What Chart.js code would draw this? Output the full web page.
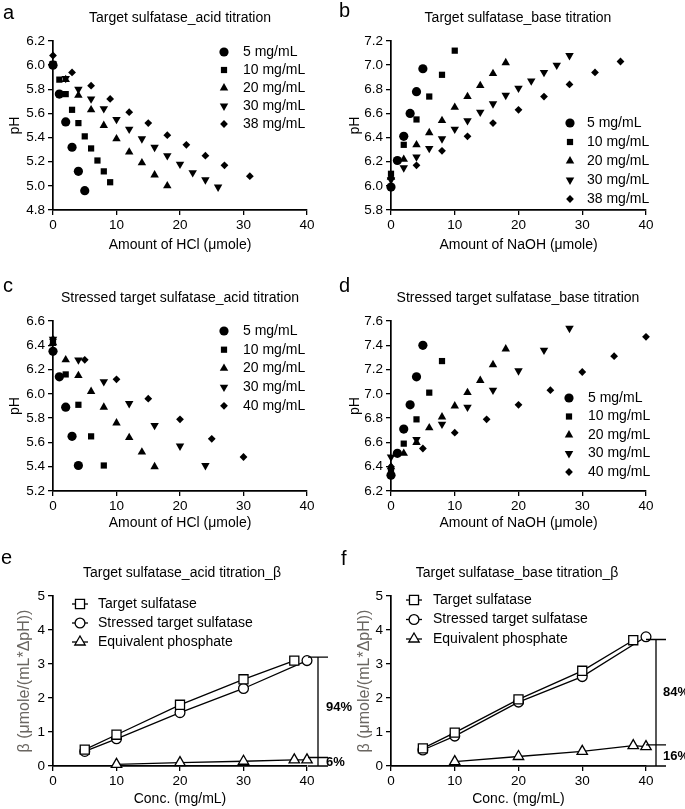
<!DOCTYPE html>
<html>
<head>
<meta charset="utf-8">
<script src="https://cdn.jsdelivr.net/npm/chart.js@4.4.1/dist/chart.umd.min.js"></script>
<style>
  html, body { margin: 0; padding: 0; background: #fff; }
  #page { position: relative; width: 685px; height: 809px; overflow: hidden;
          font-family: 'Liberation Sans', Arial, sans-serif; color: #000; }
  #page canvas { position: absolute; left: 0; top: 0; }
  .lbl { position: absolute; font-size: 20px; line-height: 20px; }
  .ttl { position: absolute; width: 340px; text-align: center; font-size: 14px; line-height: 16px; white-space: nowrap; }
</style>
</head>
<body>
<div id="page">
  <canvas id="chartA" width="685" height="809"></canvas>
  <canvas id="chartB" width="685" height="809"></canvas>
  <canvas id="chartC" width="685" height="809"></canvas>
  <canvas id="chartD" width="685" height="809"></canvas>
  <canvas id="chartE" width="685" height="809"></canvas>
  <canvas id="chartF" width="685" height="809"></canvas>

  <div class="lbl" style="left:3px;top:2px">a</div>
  <div class="lbl" style="left:339px;top:0px">b</div>
  <div class="lbl" style="left:3px;top:275px">c</div>
  <div class="lbl" style="left:339px;top:275px">d</div>
  <div class="lbl" style="left:1px;top:547px">e</div>
  <div class="lbl" style="left:341px;top:548px">f</div>

  <div class="ttl" style="left:10px;top:9px">Target sulfatase_acid titration</div>
  <div class="ttl" style="left:348px;top:9px">Target sulfatase_base titration</div>
  <div class="ttl" style="left:10px;top:289px">Stressed target sulfatase_acid titration</div>
  <div class="ttl" style="left:348px;top:289px">Stressed target sulfatase_base titration</div>
  <div class="ttl" style="left:12px;top:564px">Target sulfatase_acid titration_β</div>
  <div class="ttl" style="left:347px;top:564px">Target sulfatase_base titration_β</div>
</div>

<script>
// ---- Panel a: target sulfatase, acid titration (HCl µmole vs pH)
const labelsAB = ['5 mg/mL', '10 mg/mL', '20 mg/mL', '30 mg/mL', '38 mg/mL'];
const aHcl5  = [0, 1, 2, 3, 4, 5];
const aPh5   = [6.00, 5.76, 5.53, 5.32, 5.12, 4.96];
const aHcl10 = [0, 1, 2, 3, 4, 5, 6, 7, 8, 9];
const aPh10  = [6.01, 5.88, 5.76, 5.63, 5.52, 5.41, 5.31, 5.21, 5.12, 5.03];
const aHcl20 = [0, 2, 4, 6, 8, 10, 12, 14, 16, 18];
const aPh20  = [6.00, 5.88, 5.75, 5.63, 5.50, 5.39, 5.28, 5.19, 5.09, 5.00];
const aHcl30 = [0, 2, 4, 6, 8, 10, 12, 14, 16, 18, 20, 22, 24, 26];
const aPh30  = [6.01, 5.89, 5.80, 5.72, 5.64, 5.55, 5.47, 5.39, 5.32, 5.25, 5.18, 5.11, 5.05, 4.99];
const aHcl38 = [0, 3, 6, 9, 12, 15, 18, 21, 24, 27, 31];
const aPh38  = [6.08, 5.94, 5.83, 5.72, 5.61, 5.52, 5.42, 5.34, 5.25, 5.17, 5.08];

// ---- Panel b: target sulfatase, base titration
const bNaoh5  = [0, 1, 2, 3, 4, 5];
const bPh5    = [5.99, 6.21, 6.41, 6.60, 6.78, 6.97];
const bNaoh10 = [0, 2, 4, 6, 8, 10];
const bPh10   = [6.10, 6.34, 6.55, 6.74, 6.92, 7.12];
const bNaoh20 = [0, 2, 4, 6, 8, 10, 12, 14, 16, 18];
const bPh20   = [6.07, 6.22, 6.34, 6.44, 6.54, 6.65, 6.74, 6.83, 6.93, 7.02];
const bNaoh30 = [0, 2, 4, 6, 8, 10, 12, 14, 16, 18, 20, 22, 24, 26, 28];
const bPh30   = [6.05, 6.15, 6.24, 6.31, 6.39, 6.47, 6.54, 6.61, 6.68, 6.75, 6.81, 6.87, 6.94, 7.00, 7.08];
const bNaoh38 = [0, 4, 8, 12, 16, 20, 24, 28, 32, 36];
const bPh38   = [6.06, 6.17, 6.29, 6.41, 6.52, 6.63, 6.74, 6.84, 6.94, 7.03];

// ---- Panel c: stressed target sulfatase, acid titration
const labelsCD = ['5 mg/mL', '10 mg/mL', '20 mg/mL', '30 mg/mL', '40 mg/mL'];
const cHcl5  = [0, 1, 2, 3, 4];
const cPh5   = [6.35, 6.14, 5.89, 5.65, 5.41];
const cHcl10 = [0, 2, 4, 6, 8];
const cPh10  = [6.42, 6.16, 5.91, 5.65, 5.41];
const cHcl20 = [0, 2, 4, 6, 8, 10, 12, 14, 16];
const cPh20  = [6.42, 6.28, 6.15, 6.02, 5.89, 5.76, 5.64, 5.52, 5.40];
const cHcl30 = [0, 4, 8, 12, 16, 20, 24];
const cPh30  = [6.45, 6.28, 6.10, 5.92, 5.74, 5.57, 5.41];
const cHcl40 = [0, 5, 10, 15, 20, 25, 30];
const cPh40  = [6.45, 6.28, 6.12, 5.96, 5.79, 5.63, 5.48];

// ---- Panel d: stressed target sulfatase, base titration
const dNaoh5  = [0, 1, 2, 3, 4, 5];
const dPh5    = [6.33, 6.51, 6.71, 6.91, 7.14, 7.40];
const dNaoh10 = [0, 2, 4, 6, 8];
const dPh10   = [6.37, 6.59, 6.79, 7.01, 7.27];
const dNaoh20 = [0, 2, 4, 6, 8, 10, 12, 14, 16, 18];
const dPh20   = [6.40, 6.51, 6.60, 6.72, 6.81, 6.90, 7.01, 7.11, 7.24, 7.37];
const dNaoh30 = [0, 4, 8, 12, 16, 20, 24, 28];
const dPh30   = [6.48, 6.625, 6.75, 6.89, 7.03, 7.19, 7.36, 7.54];
const dNaoh40 = [0, 5, 10, 15, 20, 25, 30, 35, 40];
const dPh40   = [6.40, 6.55, 6.68, 6.79, 6.91, 7.03, 7.18, 7.31, 7.47];

// ---- Panels e/f: buffer capacity beta vs concentration
const labelsEF = ['Target sulfatase', 'Stressed target sulfatase', 'Equivalent phosphate'];
const eConcTarget   = [5, 10, 20, 30, 38];
const eBetaTarget   = [0.48, 0.92, 1.80, 2.55, 3.10];
const eConcStressed = [5, 10, 20, 30, 40];
const eBetaStressed = [0.43, 0.80, 1.57, 2.28, 3.10];
const eConcPhos     = [10, 20, 30, 38, 40];
const eBetaPhos     = [0.05, 0.10, 0.14, 0.18, 0.18];
const eBracket      = [3.2, 0.25];
const eBracketText  = ['94%', '6%'];

const fConcTarget   = [5, 10, 20, 30, 38];
const fBetaTarget   = [0.52, 0.98, 1.96, 2.80, 3.70];
const fConcStressed = [5, 10, 20, 30, 40];
const fBetaStressed = [0.47, 0.88, 1.88, 2.63, 3.80];
const fConcPhos     = [10, 20, 30, 38, 40];
const fBetaPhos     = [0.13, 0.28, 0.43, 0.60, 0.57];
const fBracket      = [3.72, 0.62];
const fBracketText  = ['84%', '16%'];

// ---- styles
const FONT = "'Liberation Sans', Arial, sans-serif";
const PAGE_W = 685, PAGE_H = 809;

// filled markers for the titration panels (circle, square, up, down, diamond)
const filledMarks = [
  { pointStyle: 'circle',   radius: 4.6, rotation: 0 },
  { pointStyle: 'rect',     radius: 4.4, rotation: 0 },
  { pointStyle: 'triangle', radius: 4.9, rotation: 0 },
  { pointStyle: 'triangle', radius: 4.9, rotation: 180 },
  { pointStyle: 'rectRot',  radius: 3.9, rotation: 0 }
];
// open markers for the beta panels
const openMarks = [
  { pointStyle: 'rect',     radius: 6.4, rotation: 0 },
  { pointStyle: 'circle',   radius: 4.9, rotation: 0 },
  { pointStyle: 'triangle', radius: 6.0, rotation: 0 }
];

function toPoints(xs, ys) {
  return xs.map((x, i) => ({ x: x, y: ys[i] }));
}

function filledSet(label, xs, ys, idx) {
  const m = filledMarks[idx];
  return {
    label: label,
    data: toPoints(xs, ys),
    showLine: false,
    pointStyle: m.pointStyle,
    pointRadius: m.radius,
    pointRotation: m.rotation,
    pointBackgroundColor: '#000',
    pointBorderColor: '#000',
    pointBorderWidth: 0,
    clip: false
  };
}

function openSet(label, xs, ys, idx) {
  const m = openMarks[idx];
  return {
    label: label,
    data: toPoints(xs, ys),
    showLine: true,
    borderColor: '#000',
    borderWidth: 1.3,
    pointStyle: m.pointStyle,
    pointRadius: m.radius,
    pointRotation: m.rotation,
    pointBackgroundColor: '#fff',
    pointBorderColor: '#000',
    pointBorderWidth: 1.3,
    clip: false
  };
}

// legend drawn inside the plot, GraphPad style
const panelLegend = {
  id: 'panelLegend',
  afterDraw(chart, args, opts) {
    const ctx = chart.ctx;
    ctx.save();
    ctx.font = '14px ' + FONT;
    ctx.textBaseline = 'middle';
    ctx.textAlign = 'left';
    chart.data.datasets.forEach((ds, i) => {
      const y = opts.y + i * opts.step;
      if (opts.lineHalf) {
        ctx.strokeStyle = '#000';
        ctx.lineWidth = 1.3;
        ctx.beginPath();
        ctx.moveTo(opts.x - opts.lineHalf, y);
        ctx.lineTo(opts.x + opts.lineHalf, y);
        ctx.stroke();
      }
      ctx.fillStyle = ds.pointBackgroundColor;
      ctx.strokeStyle = ds.pointBorderColor;
      ctx.lineWidth = ds.pointBorderWidth;
      Chart.helpers.drawPoint(ctx, {
        pointStyle: ds.pointStyle,
        radius: ds.pointRadius,
        rotation: ds.pointRotation,
        borderWidth: ds.pointBorderWidth
      }, opts.x, y);
      ctx.fillStyle = '#000';
      ctx.fillText(ds.label, opts.textX, y);
    });
    ctx.restore();
  }
};

// percentage bracket to the right of the beta panels
const bracketPlugin = {
  id: 'bracket',
  afterDraw(chart, args, opts) {
    const ctx = chart.ctx;
    const ys = chart.scales.y;
    const xv = chart.chartArea.right + opts.dx;
    const yTop = ys.getPixelForValue(opts.values[0]);
    const yMid = ys.getPixelForValue(opts.values[1]);
    const yBot = ys.getPixelForValue(0);
    ctx.save();
    ctx.strokeStyle = '#000';
    ctx.lineWidth = 1.3;
    ctx.beginPath();
    ctx.moveTo(xv, yTop);
    ctx.lineTo(xv, yBot);
    [yTop, yMid, yBot].forEach(y => {
      ctx.moveTo(xv - opts.cap, y);
      ctx.lineTo(xv + opts.cap, y);
    });
    ctx.stroke();
    ctx.fillStyle = '#000';
    ctx.font = 'bold 13px ' + FONT;
    ctx.textBaseline = 'middle';
    ctx.textAlign = 'left';
    ctx.fillText(opts.text[0], xv + opts.textDx, (yTop + yMid) / 2);
    ctx.fillText(opts.text[1], xv + opts.textDx, (yMid + yBot) / 2 + 1);
    ctx.restore();
  }
};

Chart.register(panelLegend, bracketPlugin);

// box: plot area in page pixels, plus centre positions of the axis titles
function makePanel(id, box, xAxis, yAxis, datasets, legendOpts, bracketOpts) {
  const xLh = 14 * 1.2;
  const yLh = yAxis.titleSize * 1.2;
  const padLeft = box.yTitleX - yLh / 2;
  const xBottom = box.xTitleY + xLh / 2;

  return new Chart(document.getElementById(id), {
    type: 'scatter',
    data: { datasets: datasets },
    options: {
      responsive: false,
      animation: false,
      devicePixelRatio: 1,
      layout: {
        padding: { left: padLeft, top: box.t, right: PAGE_W - box.r, bottom: PAGE_H - xBottom }
      },
      plugins: {
        legend: { display: false },
        tooltip: { enabled: false },
        panelLegend: legendOpts,
        bracket: bracketOpts || false
      },
      scales: {
        x: {
          type: 'linear',
          min: xAxis.min, max: xAxis.max,
          ticks: { stepSize: xAxis.step, autoSkip: false, maxRotation: 0, padding: 2,
                   color: '#000', font: { family: FONT, size: 13.5 } },
          grid: { drawOnChartArea: false, drawTicks: true, tickLength: 5, color: '#000', lineWidth: 1.3 },
          border: { display: true, color: '#000', width: 1.7 },
          title: { display: true, text: xAxis.title, color: '#000', padding: 0,
                   font: { family: FONT, size: 14 } },
          afterFit(scale) { scale.height = xBottom - box.b; }
        },
        y: {
          type: 'linear',
          min: yAxis.min, max: yAxis.max,
          ticks: { stepSize: yAxis.step, autoSkip: false, padding: 3,
                   color: '#000', font: { family: FONT, size: 13.5 },
                   callback: v => v.toFixed(yAxis.decimals) },
          grid: { drawOnChartArea: false, drawTicks: true, tickLength: 5, color: '#000', lineWidth: 1.3 },
          border: { display: true, color: '#000', width: 1.7 },
          title: { display: true, text: yAxis.title, color: yAxis.titleColor, padding: 0,
                   font: { family: FONT, size: yAxis.titleSize } },
          afterFit(scale) { scale.width = box.l - padLeft; }
        }
      }
    }
  });
}

const hclAxis  = { min: 0, max: 40, step: 10, title: 'Amount of HCl (μmole)' };
const naohAxis = { min: 0, max: 40, step: 10, title: 'Amount of NaOH (μmole)' };
const concAxis = { min: 0, max: 40, step: 10, title: 'Conc. (mg/mL)' };
function phAxis(min, max) {
  return { min: min, max: max, step: 0.2, decimals: 1, title: 'pH', titleColor: '#000', titleSize: 14 };
}
const betaAxis = { min: 0, max: 5, step: 1, decimals: 0, title: 'β (μmole/(mL*ΔpH))',
                   titleColor: '#6a6661', titleSize: 16 };

makePanel('chartA', { l: 53, r: 307, t: 41, b: 210, yTitleX: 15, xTitleY: 245 }, hclAxis, phAxis(4.8, 6.2), [
  filledSet(labelsAB[0], aHcl5, aPh5, 0),
  filledSet(labelsAB[1], aHcl10, aPh10, 1),
  filledSet(labelsAB[2], aHcl20, aPh20, 2),
  filledSet(labelsAB[3], aHcl30, aPh30, 3),
  filledSet(labelsAB[4], aHcl38, aPh38, 4)
], { x: 224, textX: 243, y: 52, step: 18 });

makePanel('chartB', { l: 391, r: 646, t: 41, b: 210, yTitleX: 355, xTitleY: 245 }, naohAxis, phAxis(5.8, 7.2), [
  filledSet(labelsAB[0], bNaoh5, bPh5, 0),
  filledSet(labelsAB[1], bNaoh10, bPh10, 1),
  filledSet(labelsAB[2], bNaoh20, bPh20, 2),
  filledSet(labelsAB[3], bNaoh30, bPh30, 3),
  filledSet(labelsAB[4], bNaoh38, bPh38, 4)
], { x: 570, textX: 587, y: 123, step: 19 });

makePanel('chartC', { l: 53, r: 307, t: 321, b: 491, yTitleX: 15, xTitleY: 523 }, hclAxis, phAxis(5.2, 6.6), [
  filledSet(labelsCD[0], cHcl5, cPh5, 0),
  filledSet(labelsCD[1], cHcl10, cPh10, 1),
  filledSet(labelsCD[2], cHcl20, cPh20, 2),
  filledSet(labelsCD[3], cHcl30, cPh30, 3),
  filledSet(labelsCD[4], cHcl40, cPh40, 4)
], { x: 224, textX: 243, y: 331, step: 18.7 });

makePanel('chartD', { l: 391, r: 646, t: 321, b: 491, yTitleX: 355, xTitleY: 523 }, naohAxis, phAxis(6.2, 7.6), [
  filledSet(labelsCD[0], dNaoh5, dPh5, 0),
  filledSet(labelsCD[1], dNaoh10, dPh10, 1),
  filledSet(labelsCD[2], dNaoh20, dPh20, 2),
  filledSet(labelsCD[3], dNaoh30, dPh30, 3),
  filledSet(labelsCD[4], dNaoh40, dPh40, 4)
], { x: 569, textX: 588, y: 398, step: 18.5 });

makePanel('chartE', { l: 53, r: 307, t: 596, b: 766, yTitleX: 25, xTitleY: 799 }, concAxis, betaAxis, [
  openSet(labelsEF[0], eConcTarget, eBetaTarget, 0),
  openSet(labelsEF[1], eConcStressed, eBetaStressed, 1),
  openSet(labelsEF[2], eConcPhos, eBetaPhos, 2)
], { x: 80, lineHalf: 8, textX: 98, y: 604, step: 19 },
   { values: eBracket, text: eBracketText, dx: 11, cap: 10, textDx: 8 });

makePanel('chartF', { l: 391, r: 646, t: 596, b: 766, yTitleX: 365, xTitleY: 799 }, concAxis, betaAxis, [
  openSet(labelsEF[0], fConcTarget, fBetaTarget, 0),
  openSet(labelsEF[1], fConcStressed, fBetaStressed, 1),
  openSet(labelsEF[2], fConcPhos, fBetaPhos, 2)
], { x: 414, lineHalf: 8, textX: 433, y: 600, step: 19.5 },
   { values: fBracket, text: fBracketText, dx: 10, cap: 10, textDx: 7 });
</script>
</body>
</html>
